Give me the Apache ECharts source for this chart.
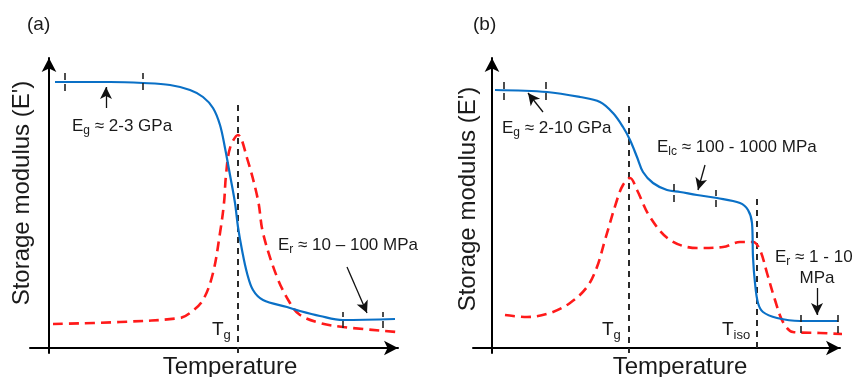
<!DOCTYPE html>
<html>
<head>
<meta charset="utf-8">
<script src="https://cdn.jsdelivr.net/npm/echarts@6/dist/echarts.min.js"></script>
<style>
  html, body { margin: 0; padding: 0; background: #fff; }
  #chart { width: 856px; height: 377px; }
</style>
</head>
<body>
<div id="chart"></div>
<script>
// x = temperature (arbitrary units from the y axis), y = modulus / tan delta (arbitrary units)
// panel (a)
const storageA = [[6,266],[61,266],[94,265],[121,263],[141,258],[154,251],[164,240],[171,223],[176,200],[181,173],[186,145],[189,121],[193,98],[198,75],[204,58],[214,48],[238,41],[251,37],[271,32],[294,28],[346,29]];
const tanDeltaA = [[4,24],[71,26],[131,30],[141,35],[154,48],[164,75],[171,115],[175,145],[177,173],[181,200],[189,213],[198,190],[209,148],[214,115],[228,71],[241,45],[251,33],[271,25],[294,21],[348,16]];
const tgA = [[189,243],[189,-5]];
const ticksA = [[16,257,275],[94,258,275],[294,20,36],[334,20,36]];
const arrowsA = [[[57,240],[57,261]],[[298,81],[318,35]]];

// panel (b)
const storageB = [[3,258],[55,256],[88,251],[108,246],[121,235],[131,221],[138,208],[145,191],[151,176],[161,165],[175,158],[188,156],[205,153],[225,150],[248,145],[256,138],[260,125],[261,91],[263,65],[266,45],[271,36],[285,30],[308,27],[346,27]];
const tanDeltaB = [[13,33],[35,31],[58,35],[78,45],[95,61],[105,81],[113,108],[125,148],[131,163],[138,170],[145,158],[158,131],[178,108],[205,100],[231,101],[248,106],[261,106],[268,98],[275,75],[283,48],[291,26],[301,16],[328,15],[350,14]];
const tgB = [[137,242],[137,-5]];
const tisoB = [[265,149],[265,-5]];
const ticksB = [[12,248,266],[54,248,266],[182,146,165],[224,141,158],[309,15,35],[346,15,35]];
const arrowsB = [[[51,236],[36,255]],[[213,183],[206,158]],[[325,60],[325,33]]];

const FONT = '"Liberation Sans", Arial, sans-serif';
const BLUE = '#0a70c6';
const RED = '#ff1a1a';

const chart = echarts.init(document.getElementById('chart'));

// measure text so subscripts sit right after the main letters
const ctx = document.createElement('canvas').getContext('2d');
function tw(s, size) {
  ctx.font = size + 'px ' + FONT;
  return ctx.measureText(s).width;
}
function label(x, y, parts, size) {
  const out = [];
  let cx = x;
  parts.forEach(([s, isSub]) => {
    const fs = isSub ? Math.round(size * 0.68) : size;
    out.push({
      type: 'text', x: cx, y: isSub ? y + 5 : y,
      style: { text: s, fill: '#1a1a1a', font: fs + 'px ' + FONT, align: 'left', verticalAlign: 'middle' },
      silent: true
    });
    cx += tw(s, fs);
  });
  return out;
}

function axes(gi) {
  const line = {
    show: true, onZero: true,
    symbol: ['none', 'arrow'], symbolSize: [11, 14],
    lineStyle: { color: '#000', width: 2 }
  };
  return {
    x: { type: 'value', gridIndex: gi, min: -19, max: gi ? 348 : 349, axisLine: line,
         axisTick: { show: false }, axisLabel: { show: false }, splitLine: { show: false } },
    y: { type: 'value', gridIndex: gi, min: -5, max: 290, axisLine: line,
         axisTick: { show: false }, axisLabel: { show: false }, splitLine: { show: false } }
  };
}

function marks(ticks, arrows) {
  const d = [];
  ticks.forEach(([x, y0, y1]) => d.push([
    { coord: [x, y0], symbol: 'none', lineStyle: { color: '#222', width: 1.6, type: [7, 4] } },
    { coord: [x, y1], symbol: 'none' }
  ]));
  arrows.forEach(([a, b]) => d.push([
    { coord: a, symbol: 'none', lineStyle: { color: '#111', width: 1.3, type: 'solid' } },
    { coord: b, symbol: 'arrow', symbolSize: [9, 12] }
  ]));
  return { silent: true, symbol: 'none', label: { show: false }, data: d };
}

function curve(name, data, gi, color, dashed, ml) {
  return {
    name, type: 'line', xAxisIndex: gi, yAxisIndex: gi, data,
    smooth: 0.35, showSymbol: false, symbol: 'none',
    lineStyle: dashed ? { color, width: 2.6, type: [10, 6] } : { color, width: 2.2 },
    markLine: ml, z: dashed ? 3 : 4
  };
}

function vline(data, gi) {
  return {
    type: 'line', xAxisIndex: gi, yAxisIndex: gi, data, showSymbol: false, symbol: 'none',
    lineStyle: { color: '#2a2a2a', width: 2, type: [6, 5] }, z: 2
  };
}

const ax0 = axes(0), ax1 = axes(1);

chart.setOption({
  animation: false,
  grid: [
    { left: 30, top: 58, width: 368, height: 295 },
    { left: 473, top: 58, width: 367, height: 295 }
  ],
  xAxis: [ax0.x, ax1.x],
  yAxis: [ax0.y, ax1.y],
  series: [
    vline(tgA, 0),
    curve('tanδ a', tanDeltaA, 0, RED, true),
    curve("E' a", storageA, 0, BLUE, false, marks(ticksA, arrowsA)),
    vline(tgB, 1),
    vline(tisoB, 1),
    curve('tanδ b', tanDeltaB, 1, RED, true),
    curve("E' b", storageB, 1, BLUE, false, marks(ticksB, arrowsB))
  ],
  graphic: [
    { type: 'text', x: 27, y: 25, style: { text: '(a)', font: '19px ' + FONT, fill: '#1a1a1a', verticalAlign: 'middle' } },
    { type: 'text', x: 473, y: 25, style: { text: '(b)', font: '19px ' + FONT, fill: '#1a1a1a', verticalAlign: 'middle' } },
    { type: 'text', x: 22, y: 193, rotation: Math.PI / 2,
      style: { text: "Storage modulus (E')", font: '24px ' + FONT, fill: '#1a1a1a', align: 'center', verticalAlign: 'middle' } },
    { type: 'text', x: 468, y: 199, rotation: Math.PI / 2,
      style: { text: "Storage modulus (E')", font: '24px ' + FONT, fill: '#1a1a1a', align: 'center', verticalAlign: 'middle' } },
    { type: 'text', x: 230, y: 367, style: { text: 'Temperature', font: '24px ' + FONT, fill: '#1a1a1a', align: 'center', verticalAlign: 'middle' } },
    { type: 'text', x: 680, y: 367, style: { text: 'Temperature', font: '24px ' + FONT, fill: '#1a1a1a', align: 'center', verticalAlign: 'middle' } },
    { type: 'text', x: 817, y: 278, style: { text: 'MPa', font: '17px ' + FONT, fill: '#1a1a1a', align: 'center', verticalAlign: 'middle' } },
    ...label(72, 126, [['E'], ['g', true], [' ≈ 2-3 GPa']], 17),
    ...label(278, 245, [['E'], ['r', true], [' ≈ 10 – 100 MPa']], 17),
    ...label(212, 330, [['T'], ['g', true]], 19),
    ...label(502, 128, [['E'], ['g', true], [' ≈ 2-10 GPa']], 17),
    ...label(657, 147, [['E'], ['lc', true], [' ≈ 100 - 1000 MPa']], 17),
    ...label(775, 257, [['E'], ['r', true], [' ≈ 1 - 10']], 17),
    ...label(602, 330, [['T'], ['g', true]], 19),
    ...label(722, 330, [['T'], ['iso', true]], 19)
  ]
});
</script>
</body>
</html>
